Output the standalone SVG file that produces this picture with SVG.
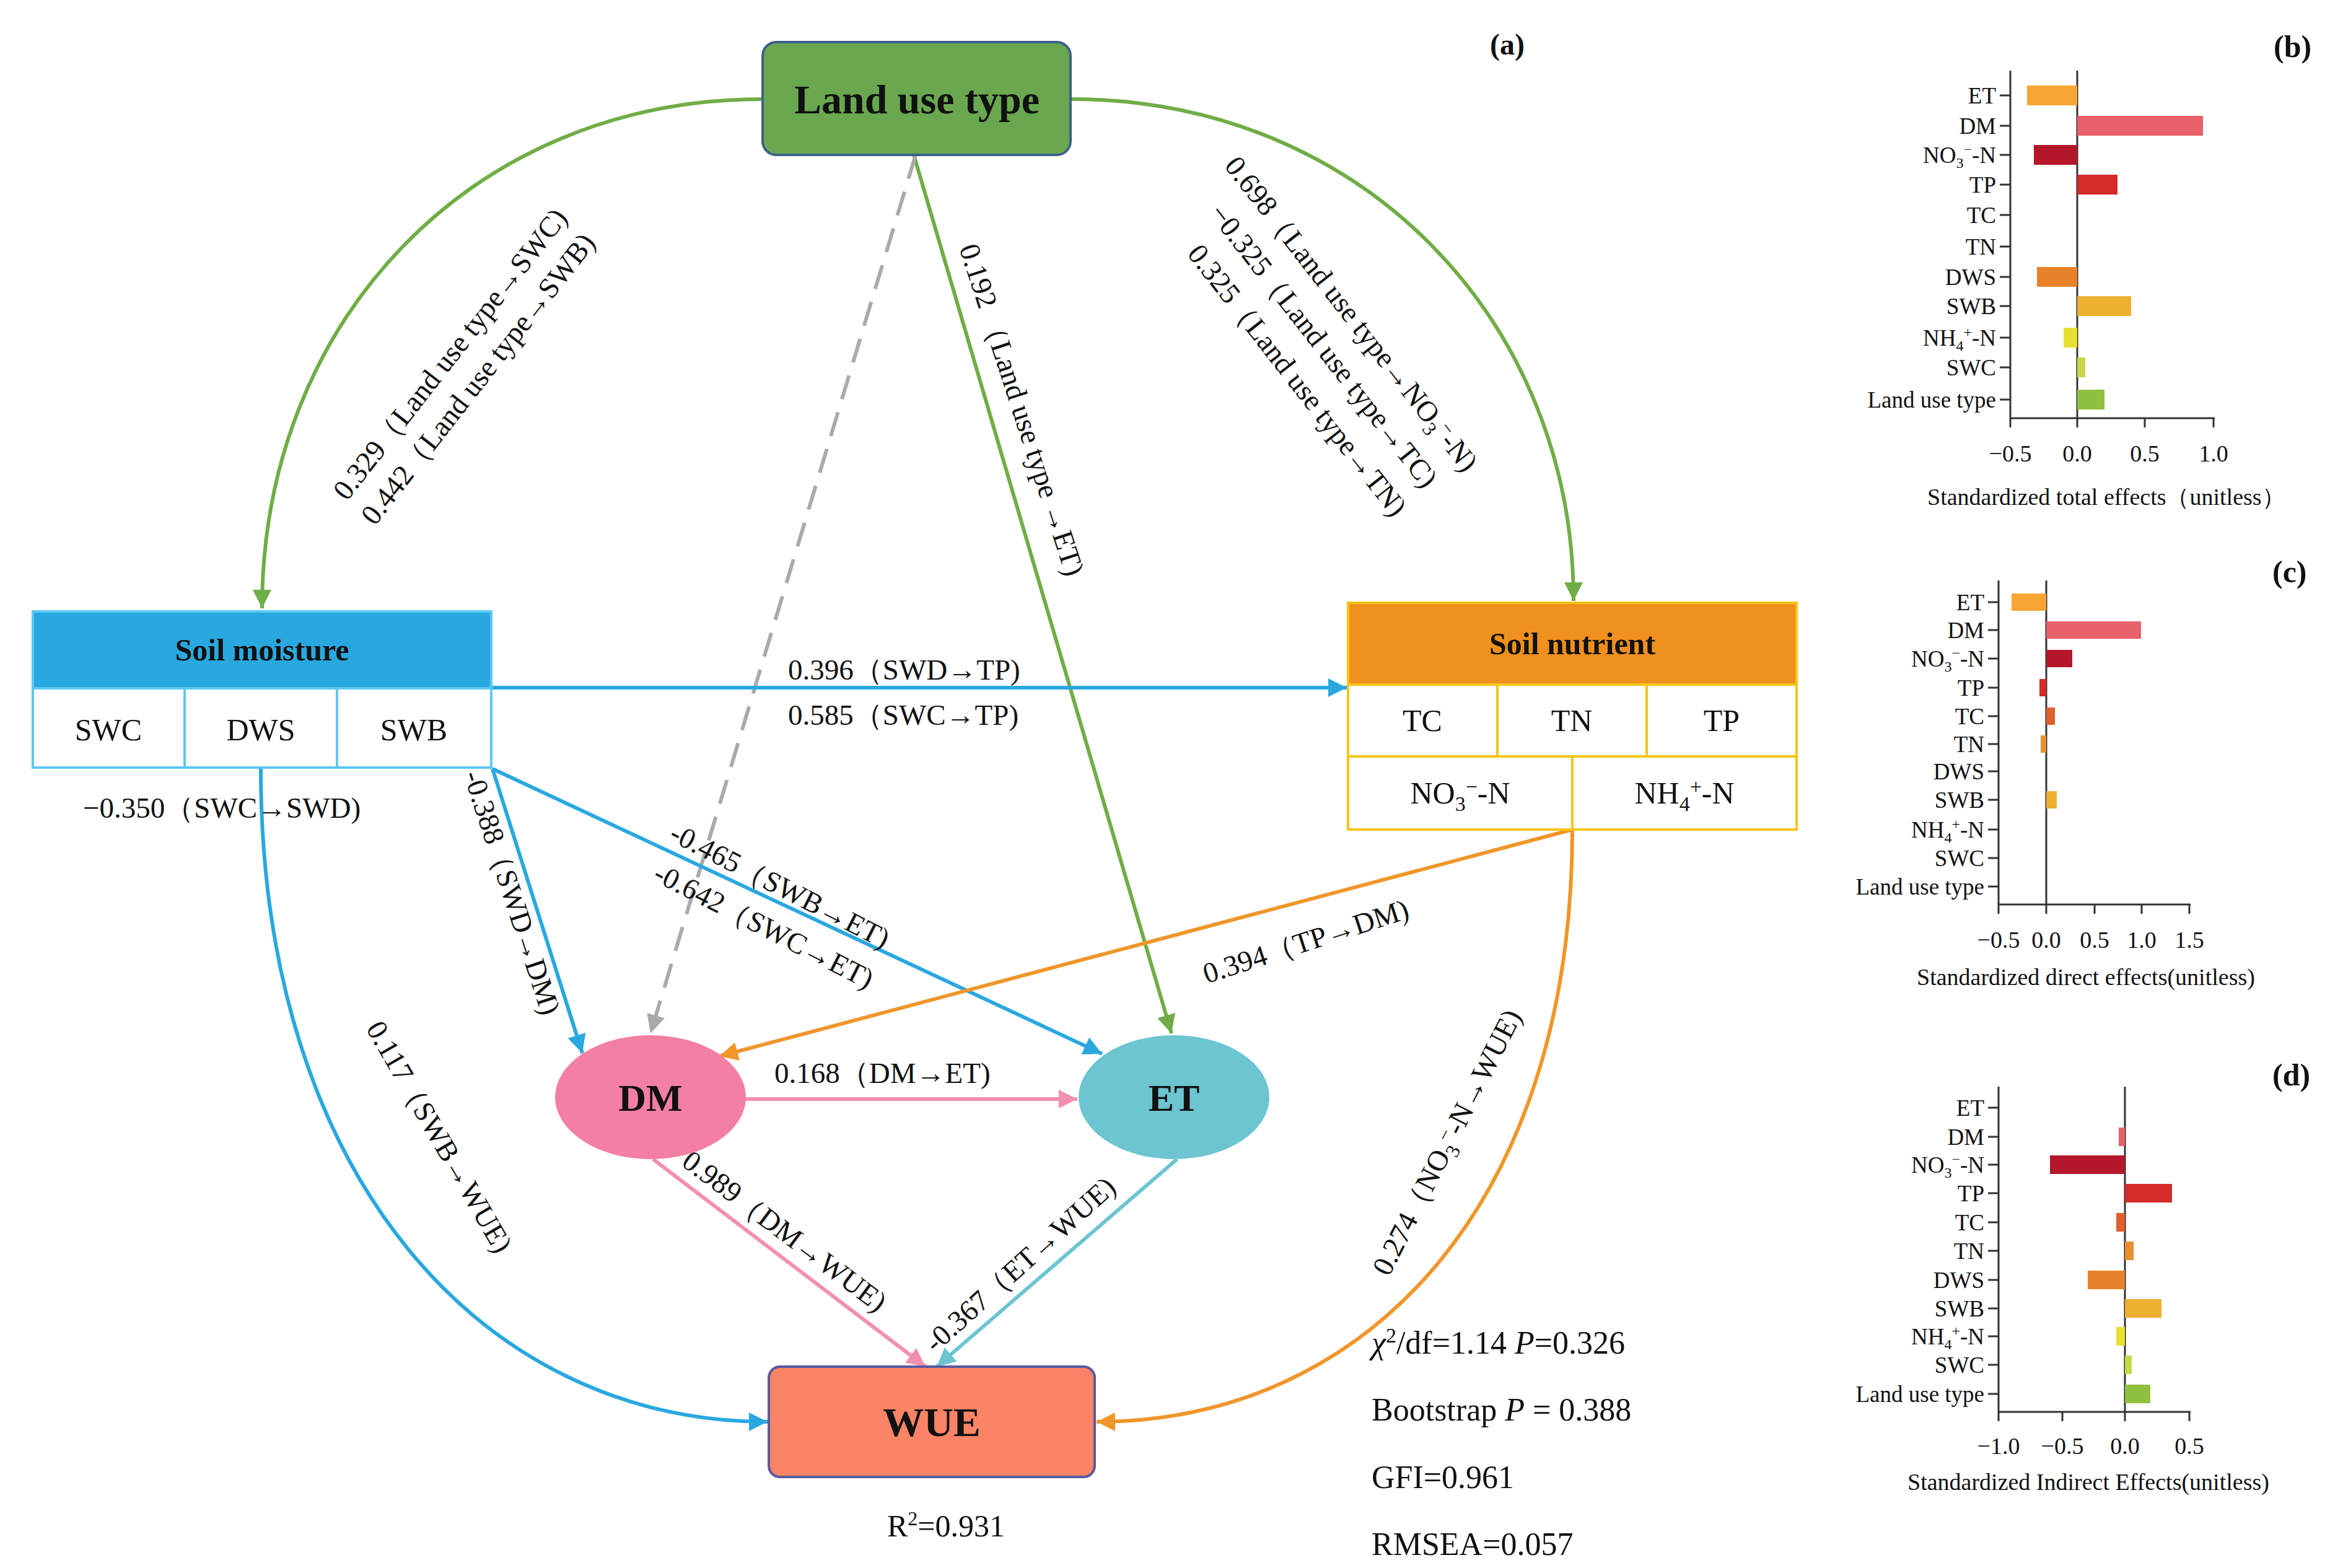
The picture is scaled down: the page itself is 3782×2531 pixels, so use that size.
<svg xmlns="http://www.w3.org/2000/svg" width="3782" height="2531" viewBox="0 0 3782 2531">
<style>
text{font-family:"Liberation Serif","Times New Roman",serif;fill:#111}
.b{font-weight:bold}
.lab{font-size:47px}
.cell{font-size:50px;text-anchor:middle}
.c{fill:none;stroke-width:6}
.ax{stroke:#333;stroke-width:3;fill:none}
.cat{font-size:37px;text-anchor:end}
.tk{font-size:38px;text-anchor:middle}
.ttl{font-size:38px}
</style>
<defs>
<marker id="mg" markerWidth="6" markerHeight="5" refX="10" refY="5" viewBox="0 0 10 10" orient="auto" markerUnits="strokeWidth"><path d="M0,0L10,5L0,10z" fill="#70ad47"/></marker>
<marker id="mb" markerWidth="6" markerHeight="5" refX="10" refY="5" viewBox="0 0 10 10" orient="auto" markerUnits="strokeWidth"><path d="M0,0L10,5L0,10z" fill="#29a8e0"/></marker>
<marker id="mo" markerWidth="6" markerHeight="5" refX="10" refY="5" viewBox="0 0 10 10" orient="auto" markerUnits="strokeWidth"><path d="M0,0L10,5L0,10z" fill="#f0962a"/></marker>
<marker id="mp" markerWidth="6" markerHeight="5" refX="10" refY="5" viewBox="0 0 10 10" orient="auto" markerUnits="strokeWidth"><path d="M0,0L10,5L0,10z" fill="#f38fb0"/></marker>
<marker id="mt" markerWidth="6" markerHeight="5" refX="10" refY="5" viewBox="0 0 10 10" orient="auto" markerUnits="strokeWidth"><path d="M0,0L10,5L0,10z" fill="#6cc5d1"/></marker>
<marker id="mgr" markerWidth="6" markerHeight="5" refX="10" refY="5" viewBox="0 0 10 10" orient="auto" markerUnits="strokeWidth"><path d="M0,0L10,5L0,10z" fill="#aaaaaa"/></marker>
</defs>
<rect width="3782" height="2531" fill="#fff"/>

<g id="connectors">
<path class="c" stroke="#70ad47" d="M1231,160 C760,160 423,520 423,982" marker-end="url(#mg)"/>
<path class="c" stroke="#70ad47" d="M1728,160 C2200,160 2540,520 2540,970" marker-end="url(#mg)"/>
<path class="c" stroke="#70ad47" d="M1475,250 L1891,1668" marker-end="url(#mg)"/>
<path class="c" stroke="#aaaaaa" stroke-dasharray="40,22" d="M1478,250 L1050,1668" marker-end="url(#mgr)"/>
<path class="c" stroke="#29a8e0" d="M795,1110 L2174,1110" marker-end="url(#mb)"/>
<path class="c" stroke="#29a8e0" d="M421,1241 C421,1900 780,2295 1239,2295" marker-end="url(#mb)"/>
<path class="c" stroke="#29a8e0" d="M795,1241 L940,1700" marker-end="url(#mb)"/>
<path class="c" stroke="#29a8e0" d="M795,1241 L1779,1701" marker-end="url(#mb)"/>
<path class="c" stroke="#f0962a" d="M2538,1339 L1161,1705" marker-end="url(#mo)"/>
<path class="c" stroke="#f0962a" d="M2538,1339 C2538,1950 2200,2295 1770,2295" marker-end="url(#mo)"/>
<path class="c" stroke="#f38fb0" d="M1202,1774 L1739,1774" marker-end="url(#mp)"/>
<path class="c" stroke="#f38fb0" d="M1054,1871 L1494,2206" marker-end="url(#mp)"/>
<path class="c" stroke="#6cc5d1" d="M1900,1871 L1512,2206" marker-end="url(#mt)"/>
</g>

<g id="labels">
<text class="lab" transform="translate(560,810) rotate(-52)">0.329（Land use type→SWC)</text>
<text class="lab" transform="translate(605,850) rotate(-52)">0.442（Land use type→SWB)</text>
<text class="lab" transform="translate(1975,268) rotate(52)">0.698（Land use type→NO<tspan dy="10" font-size="32">3</tspan><tspan dy="-24" font-size="32">−</tspan><tspan dy="14">-N)</tspan></text>
<text class="lab" transform="translate(1950,345) rotate(52)">−0.325（Land use type→TC)</text>
<text class="lab" transform="translate(1915,410) rotate(52)">0.325（Land use type→TN)</text>
<text class="lab" transform="translate(1548,400) rotate(72)">0.192  （Land use type →ET)</text>
<text class="lab" x="1272" y="1097">0.396（SWD→TP)</text>
<text class="lab" x="1272" y="1170">0.585（SWC→TP)</text>
<text class="lab" x="134" y="1320">−0.350（SWC→SWD)</text>
<text class="lab" transform="translate(748,1250) rotate(72)">-0.388（SWD→DM)</text>
<text class="lab" transform="translate(1078,1355) rotate(27)">-0.465（SWB→ET)</text>
<text class="lab" transform="translate(1052,1420) rotate(27)">-0.642（SWC→ET)</text>
<text class="lab" transform="translate(1948,1588) rotate(-18)">0.394（TP→DM)</text>
<text class="lab" transform="translate(2242,2062) rotate(-63)">0.274（NO<tspan dy="10" font-size="32">3</tspan><tspan dy="-24" font-size="32">−</tspan><tspan dy="14">-N→WUE)</tspan></text>
<text class="lab" transform="translate(590,1660) rotate(60)">0.117（SWB→WUE)</text>
<text class="lab" x="1250" y="1748">0.168（DM→ET)</text>
<text class="lab" transform="translate(1098,1880) rotate(37)">0.989（DM→WUE)</text>
<text class="lab" transform="translate(1510,2185) rotate(-42)">-0.367（ET→WUE)</text>
</g>

<g id="land-use-type">
<rect x="1231" y="68" width="497" height="182" rx="22" fill="#6aa84f" stroke="#3f5f8a" stroke-width="4"/>
<text class="b" x="1480" y="183" font-size="66" text-anchor="middle">Land use type</text>
</g>

<g id="soil-moisture">
<rect x="53" y="987" width="740" height="124" fill="#29a8e0" stroke="#5bc8f5" stroke-width="4"/>
<rect x="53" y="1111" width="740" height="128" fill="#fff" stroke="#5bc8f5" stroke-width="4"/>
<line x1="298" y1="1111" x2="298" y2="1239" stroke="#5bc8f5" stroke-width="4"/>
<line x1="544" y1="1111" x2="544" y2="1239" stroke="#5bc8f5" stroke-width="4"/>
<text class="b" x="423" y="1066" font-size="50" text-anchor="middle">Soil moisture</text>
<text class="cell" x="175" y="1195">SWC</text>
<text class="cell" x="421" y="1195">DWS</text>
<text class="cell" x="668" y="1195">SWB</text>
</g>

<g id="soil-nutrient">
<rect x="2176" y="973" width="724" height="132" fill="#f0901e" stroke="#f5c518" stroke-width="4"/>
<rect x="2176" y="1105" width="724" height="234" fill="#fff" stroke="#f5c518" stroke-width="4"/>
<line x1="2176" y1="1221" x2="2900" y2="1221" stroke="#f5c518" stroke-width="4"/>
<line x1="2417" y1="1105" x2="2417" y2="1221" stroke="#f5c518" stroke-width="4"/>
<line x1="2658" y1="1105" x2="2658" y2="1221" stroke="#f5c518" stroke-width="4"/>
<line x1="2538" y1="1221" x2="2538" y2="1339" stroke="#f5c518" stroke-width="4"/>
<text class="b" x="2538" y="1056" font-size="50" text-anchor="middle">Soil nutrient</text>
<text class="cell" x="2296" y="1180">TC</text>
<text class="cell" x="2537" y="1180">TN</text>
<text class="cell" x="2779" y="1180">TP</text>
<text class="cell" x="2357" y="1297">NO<tspan dy="12" font-size="34">3</tspan><tspan dy="-28" font-size="34">−</tspan><tspan dy="16">-N</tspan></text>
<text class="cell" x="2719" y="1297">NH<tspan dy="12" font-size="34">4</tspan><tspan dy="-28" font-size="34">+</tspan><tspan dy="16">-N</tspan></text>
</g>

<g id="dm">
<ellipse cx="1050" cy="1771" rx="154" ry="100" fill="#f37fa2"/>
<text class="b" x="1050" y="1793" font-size="62" text-anchor="middle">DM</text>
</g>
<g id="et">
<ellipse cx="1895" cy="1771" rx="154" ry="100" fill="#6cc5d1"/>
<text class="b" x="1895" y="1793" font-size="62" text-anchor="middle">ET</text>
</g>
<g id="wue">
<rect x="1241" y="2206" width="526" height="178" rx="18" fill="#fa8465" stroke="#5a5aa0" stroke-width="4"/>
<text class="b" x="1504" y="2318" font-size="66" text-anchor="middle">WUE</text>
</g>

<g id="stats">
<text x="1527" y="2480" font-size="50" text-anchor="middle">R<tspan dy="-18" font-size="32">2</tspan><tspan dy="18">=0.931</tspan></text>
<text x="2214" y="2185" font-size="52"><tspan font-style="italic">χ</tspan><tspan dy="-18" font-size="34">2</tspan><tspan dy="18">/df=1.14 </tspan><tspan font-style="italic">P</tspan>=0.326</text>
<text x="2214" y="2293" font-size="52">Bootstrap <tspan font-style="italic">P</tspan> = 0.388</text>
<text x="2214" y="2402" font-size="52">GFI=0.961</text>
<text x="2214" y="2510" font-size="52">RMSEA=0.057</text>
<text class="b" x="2405" y="88" font-size="48">(a)</text>
</g>

<g id="chart-b">
<text class="b" x="3670" y="92" font-size="50">(b)</text>
<path class="ax" d="M3245,114 V675 H3575 M3353,114 V675 M3245,675 v15 M3353,675 v15 M3462,675 v15 M3573,675 v15"/>
<path class="ax" d="M3228,154h17M3228,203h17M3228,250h17M3228,298h17M3228,347h17M3228,398h17M3228,447h17M3228,494h17M3228,545h17M3228,593h17M3228,645h17"/>
<rect x="3272" y="138" width="81" height="32" fill="#f8a535"/>
<rect x="3353" y="187" width="203" height="32" fill="#e8606a"/>
<rect x="3283" y="234" width="70" height="32" fill="#b5172a"/>
<rect x="3353" y="282" width="65" height="32" fill="#d42a2a"/>
<rect x="3288" y="431" width="65" height="32" fill="#e8822a"/>
<rect x="3353" y="478" width="87" height="32" fill="#eeb030"/>
<rect x="3331" y="529" width="22" height="32" fill="#e8e030"/>
<rect x="3353" y="577" width="13" height="32" fill="#c8d848"/>
<rect x="3353" y="629" width="44" height="32" fill="#90c040"/>
<text class="cat" x="3222" y="167">ET</text>
<text class="cat" x="3222" y="216">DM</text>
<text class="cat" x="3222" y="263">NO<tspan dy="8" font-size="24">3</tspan><tspan dy="-22" font-size="24">−</tspan><tspan dy="14">-N</tspan></text>
<text class="cat" x="3222" y="311">TP</text>
<text class="cat" x="3222" y="360">TC</text>
<text class="cat" x="3222" y="411">TN</text>
<text class="cat" x="3222" y="460">DWS</text>
<text class="cat" x="3222" y="507">SWB</text>
<text class="cat" x="3222" y="558">NH<tspan dy="8" font-size="24">4</tspan><tspan dy="-22" font-size="24">+</tspan><tspan dy="14">-N</tspan></text>
<text class="cat" x="3222" y="606">SWC</text>
<text class="cat" x="3222" y="658">Land use type</text>
<text class="tk" x="3245" y="745">−0.5</text>
<text class="tk" x="3353" y="745">0.0</text>
<text class="tk" x="3462" y="745">0.5</text>
<text class="tk" x="3573" y="745">1.0</text>
<text class="ttl" x="3111" y="815">Standardized total effects（unitless）</text>
</g>

<g id="chart-c">
<text class="b" x="3668" y="940" font-size="50">(c)</text>
<path class="ax" d="M3226,937 V1460 H3536 M3303,937 V1460 M3226,1460 v15 M3303,1460 v15 M3381,1460 v15 M3457,1460 v15 M3534,1460 v15"/>
<path class="ax" d="M3209,972h17M3209,1017h17M3209,1063h17M3209,1110h17M3209,1156h17M3209,1201h17M3209,1245h17M3209,1291h17M3209,1339h17M3209,1385h17M3209,1431h17"/>
<rect x="3247" y="958" width="56" height="28" fill="#f8a535"/>
<rect x="3303" y="1003" width="153" height="28" fill="#e8606a"/>
<rect x="3303" y="1049" width="42" height="28" fill="#b5172a"/>
<rect x="3292" y="1096" width="11" height="28" fill="#d42a2a"/>
<rect x="3303" y="1142" width="14" height="28" fill="#e06030"/>
<rect x="3294" y="1187" width="9" height="28" fill="#e89030"/>
<rect x="3303" y="1277" width="17" height="28" fill="#eeb030"/>
<text class="cat" x="3203" y="985">ET</text>
<text class="cat" x="3203" y="1030">DM</text>
<text class="cat" x="3203" y="1076">NO<tspan dy="8" font-size="24">3</tspan><tspan dy="-22" font-size="24">−</tspan><tspan dy="14">-N</tspan></text>
<text class="cat" x="3203" y="1123">TP</text>
<text class="cat" x="3203" y="1169">TC</text>
<text class="cat" x="3203" y="1214">TN</text>
<text class="cat" x="3203" y="1258">DWS</text>
<text class="cat" x="3203" y="1304">SWB</text>
<text class="cat" x="3203" y="1352">NH<tspan dy="8" font-size="24">4</tspan><tspan dy="-22" font-size="24">+</tspan><tspan dy="14">-N</tspan></text>
<text class="cat" x="3203" y="1398">SWC</text>
<text class="cat" x="3203" y="1444">Land use type</text>
<text class="tk" x="3226" y="1530">−0.5</text>
<text class="tk" x="3303" y="1530">0.0</text>
<text class="tk" x="3381" y="1530">0.5</text>
<text class="tk" x="3457" y="1530">1.0</text>
<text class="tk" x="3534" y="1530">1.5</text>
<text class="ttl" x="3094" y="1590">Standardized direct effects(unitless)</text>
</g>

<g id="chart-d">
<text class="b" x="3668" y="1752" font-size="50">(d)</text>
<path class="ax" d="M3226,1754 V2279 H3536 M3430,1754 V2279 M3226,2279 v15 M3329,2279 v15 M3430,2279 v15 M3534,2279 v15"/>
<path class="ax" d="M3209,1788h17M3209,1835h17M3209,1880h17M3209,1926h17M3209,1973h17M3209,2019h17M3209,2066h17M3209,2112h17M3209,2157h17M3209,2203h17M3209,2250h17"/>
<rect x="3420" y="1820" width="10" height="30" fill="#e8606a"/>
<rect x="3309" y="1865" width="121" height="30" fill="#b5172a"/>
<rect x="3430" y="1911" width="76" height="30" fill="#d42a2a"/>
<rect x="3416" y="1958" width="14" height="30" fill="#e06030"/>
<rect x="3430" y="2004" width="14" height="30" fill="#e89030"/>
<rect x="3370" y="2051" width="60" height="30" fill="#e8822a"/>
<rect x="3430" y="2097" width="59" height="30" fill="#eeb030"/>
<rect x="3416" y="2142" width="14" height="30" fill="#e8e030"/>
<rect x="3430" y="2188" width="11" height="30" fill="#c8d848"/>
<rect x="3430" y="2235" width="41" height="30" fill="#90c040"/>
<text class="cat" x="3203" y="1801">ET</text>
<text class="cat" x="3203" y="1848">DM</text>
<text class="cat" x="3203" y="1893">NO<tspan dy="8" font-size="24">3</tspan><tspan dy="-22" font-size="24">−</tspan><tspan dy="14">-N</tspan></text>
<text class="cat" x="3203" y="1939">TP</text>
<text class="cat" x="3203" y="1986">TC</text>
<text class="cat" x="3203" y="2032">TN</text>
<text class="cat" x="3203" y="2079">DWS</text>
<text class="cat" x="3203" y="2125">SWB</text>
<text class="cat" x="3203" y="2170">NH<tspan dy="8" font-size="24">4</tspan><tspan dy="-22" font-size="24">+</tspan><tspan dy="14">-N</tspan></text>
<text class="cat" x="3203" y="2216">SWC</text>
<text class="cat" x="3203" y="2263">Land use type</text>
<text class="tk" x="3226" y="2347">−1.0</text>
<text class="tk" x="3329" y="2347">−0.5</text>
<text class="tk" x="3430" y="2347">0.0</text>
<text class="tk" x="3534" y="2347">0.5</text>
<text class="ttl" x="3079" y="2405">Standardized Indirect Effects(unitless)</text>
</g>
</svg>
